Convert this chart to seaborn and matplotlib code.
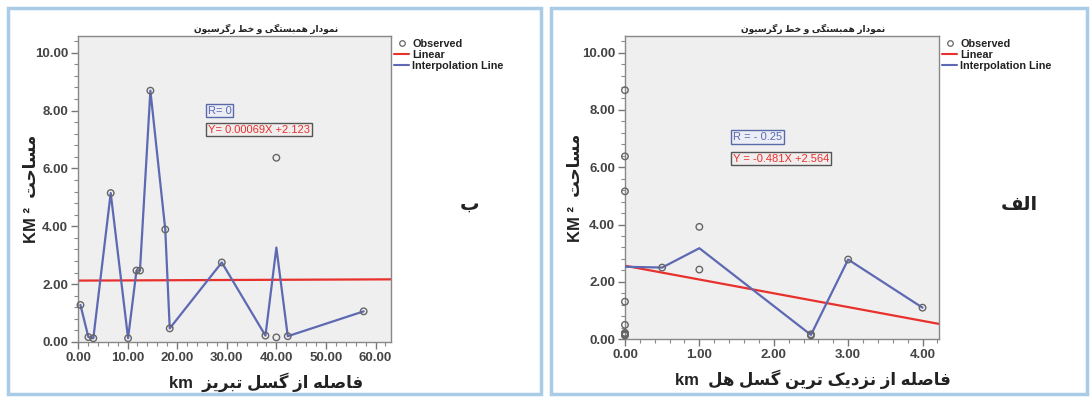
# -*- coding: utf-8 -*-
import numpy as np
import pandas as pd
import matplotlib
matplotlib.use("Agg")
import matplotlib.pyplot as plt
import seaborn as sns
from matplotlib.lines import Line2D
from matplotlib.patches import Rectangle
from matplotlib.ticker import MultipleLocator, FormatStrFormatter

# ---- data ----
# panel "ب" : distance from Tabriz fault (km) vs area (km2)
tabriz_dist = [0.5, 2.1, 3.1, 6.6, 10.1, 11.8, 12.5, 14.6, 17.6, 18.5,
               29.0, 37.8, 40.0, 40.0, 42.3, 57.6]
tabriz_area = [1.28, 0.17, 0.13, 5.15, 0.13, 2.47, 2.47, 8.69, 3.89, 0.47,
               2.75, 0.22, 6.37, 0.16, 0.20, 1.06]
tabriz_fit = [0.00069, 2.123]   # slope, intercept
tabriz_r = "R= 0"

# panel "الف" : distance from nearest fault (km) vs area (km2)
near_dist = [0, 0, 0, 0, 0, 0, 0, 0, 0, 0.5, 1.0, 1.0, 2.5, 2.5, 3.0, 4.0]
near_area = [8.69, 6.38, 5.16, 1.31, 0.50, 0.22, 0.20, 0.16, 0.13, 2.50,
             3.92, 2.43, 0.17, 0.13, 2.78, 1.10]
near_fit = [-0.481, 2.564]
near_r = "R = - 0.25"

y_ticks = [0, 2, 4, 6, 8, 10]

# ---- minimal persian shaping (matplotlib has no bidi / joining) ----
FORMS = {  # isolated, final, initial, medial
    'ا': ('\uFE8D', '\uFE8E', None, None),
    'ب': ('\uFE8F', '\uFE90', '\uFE91', '\uFE92'),
    'ت': ('\uFE95', '\uFE96', '\uFE97', '\uFE98'),
    'ح': ('\uFEA1', '\uFEA2', '\uFEA3', '\uFEA4'),
    'خ': ('\uFEA5', '\uFEA6', '\uFEA7', '\uFEA8'),
    'د': ('\uFEA9', '\uFEAA', None, None),
    'ر': ('\uFEAD', '\uFEAE', None, None),
    'ز': ('\uFEAF', '\uFEB0', None, None),
    'س': ('\uFEB1', '\uFEB2', '\uFEB3', '\uFEB4'),
    'ص': ('\uFEB9', '\uFEBA', '\uFEBB', '\uFEBC'),
    'ط': ('\uFEC1', '\uFEC2', '\uFEC3', '\uFEC4'),
    'ف': ('\uFED1', '\uFED2', '\uFED3', '\uFED4'),
    'ل': ('\uFEDD', '\uFEDE', '\uFEDF', '\uFEE0'),
    'م': ('\uFEE1', '\uFEE2', '\uFEE3', '\uFEE4'),
    'ن': ('\uFEE5', '\uFEE6', '\uFEE7', '\uFEE8'),
    'ه': ('\uFEE9', '\uFEEA', '\uFEEB', '\uFEEC'),
    'و': ('\uFEED', '\uFEEE', None, None),
    'ک': ('\uFB8E', '\uFB8F', '\uFB90', '\uFB91'),
    'گ': ('\uFB92', '\uFB93', '\uFB94', '\uFB95'),
    'ی': ('\uFBFC', '\uFBFD', '\uFBFE', '\uFBFF'),
}


def fa(text):
    out = []
    for i, c in enumerate(text):
        if c not in FORMS:
            out.append(c)
            continue
        f = FORMS[c]
        prev = text[i - 1] if i > 0 else None
        nxt = text[i + 1] if i + 1 < len(text) else None
        jp = prev in FORMS and FORMS[prev][2] is not None
        jn = nxt in FORMS and f[2] is not None
        if jp and jn:
            out.append(f[3])
        elif jp:
            out.append(f[1])
        elif jn:
            out.append(f[2])
        else:
            out.append(f[0])
    return ''.join(out)[::-1]


sns.set_theme(style="ticks")
plt.rcParams['font.family'] = ['Liberation Sans', 'DejaVu Sans']

BLUE = "#5d69b2"
RED = "#e8302c"
GREY = "#666666"

fig = plt.figure(figsize=(10.92, 4.0), dpi=100)

# light-blue panel frames
for x0, w in [(0.007, 0.488), (0.505, 0.490)]:
    fig.patches.append(Rectangle((x0, 0.015), w, 0.965, transform=fig.transFigure,
                                 fill=False, edgecolor="#a9cbe6", linewidth=2.5))

panels = [
    dict(rect=[0.0714, 0.145, 0.2866, 0.765], x=tabriz_dist, y=tabriz_area,
         fit=tabriz_fit, r=tabriz_r, xlim=63.1, xmaj=10, xmin=2,
         xlabel='km  ' + fa('فاصله از گسل تبریز'), letter=fa('ب'),
         letter_x=0.43, ann_x=26.2, r_y=8.0, eq_y=7.34, ylab_x=-0.125,
         eq='Y= {:.5f}X +{:.3f}'),
    dict(rect=[0.5723, 0.152, 0.2875, 0.758], x=near_dist, y=near_area,
         fit=near_fit, r=near_r, xlim=4.22, xmaj=1, xmin=0.2,
         xlabel='km  ' + fa('فاصله از نزدیک ترین گسل هل'), letter=fa('الف'),
         letter_x=0.933, ann_x=1.45, r_y=7.05, eq_y=6.3, ylab_x=-0.135,
         eq='Y = {:.3f}X +{:.3f}'),
]

for p in panels:
    ax = fig.add_axes(p['rect'])
    ax.set_facecolor("#efefef")
    df = pd.DataFrame({'dist': p['x'], 'area': p['y']})

    # regression line from its coefficients
    ax.axline((0, p['fit'][1]), slope=p['fit'][0], color=RED, lw=1.6, zorder=2)
    # interpolation line through mean of each x
    sns.lineplot(data=df, x='dist', y='area', estimator='mean', errorbar=None,
                 color=BLUE, lw=1.6, ax=ax, zorder=3)
    sns.scatterplot(data=df, x='dist', y='area', marker='o', s=22,
                    facecolor='none', edgecolor=GREY, linewidth=1.0, ax=ax, zorder=4,
                    clip_on=False)

    ax.set_xlim(0, p['xlim'])
    ax.set_ylim(0, 10.58)
    ax.set_yticks(y_ticks)
    ax.xaxis.set_major_locator(MultipleLocator(p['xmaj']))
    ax.xaxis.set_minor_locator(MultipleLocator(p['xmin']))
    ax.yaxis.set_minor_locator(MultipleLocator(0.4))
    ax.xaxis.set_major_formatter(FormatStrFormatter('%.2f'))
    ax.yaxis.set_major_formatter(FormatStrFormatter('%.2f'))
    ax.tick_params(which='major', length=5, width=1, color='#777777',
                   labelsize=9.5, labelcolor='#444444', pad=2)
    ax.tick_params(which='minor', length=3, width=0.8, color='#888888')
    for lab in ax.get_xticklabels() + ax.get_yticklabels():
        lab.set_fontweight('bold')
    for s in ax.spines.values():
        s.set_color('#888888')
        s.set_linewidth(1.0)

    ax.set_xlabel(p['xlabel'], fontsize=12, fontweight='bold', color='#222222')
    ax.xaxis.set_label_coords(0.6, -0.1)
    ax.set_ylabel('KM ²  ' + fa('مساحت'), fontsize=12, fontweight='bold',
                  color='#222222')
    ax.yaxis.set_label_coords(p['ylab_x'], 0.5)
    ax.set_title(fa('نمودار همبستگی و خط رگرسیون'), fontsize=6.5,
                 fontweight='bold', color='#222222', x=0.6, pad=3)

    ax.text(p['ann_x'], p['r_y'], p['r'],
            color=BLUE, fontsize=8, va='center', ha='left',
            bbox=dict(boxstyle='square,pad=0.15', fc='#eceef6', ec='#5a6aa8', lw=1))
    ax.text(p['ann_x'], p['eq_y'], p['eq'].format(p['fit'][0], p['fit'][1]),
            color=RED, fontsize=8, va='center', ha='left',
            bbox=dict(boxstyle='square,pad=0.15', fc='#f2eeee', ec='#555555', lw=1))

    handles = [
        Line2D([], [], marker='o', ls='none', mfc='none', mec=GREY, ms=4, mew=0.9),
        Line2D([], [], color=RED, lw=1.5),
        Line2D([], [], color=BLUE, lw=1.5),
    ]
    leg = ax.legend(handles, ['Observed', 'Linear', 'Interpolation Line'],
                    loc='upper left', bbox_to_anchor=(1.01, 0.99), frameon=False,
                    fontsize=7.8, handlelength=1.4, handletextpad=0.3,
                    labelspacing=0.1, borderpad=0, borderaxespad=0)
    for t in leg.get_texts():
        t.set_fontweight('bold')
        t.set_color('#222222')

    fig.text(p['letter_x'], 0.487, p['letter'], fontsize=14, fontweight='bold',
             color='#222222', ha='center', va='center')

fig.savefig('out.png', dpi=100, facecolor='white')
